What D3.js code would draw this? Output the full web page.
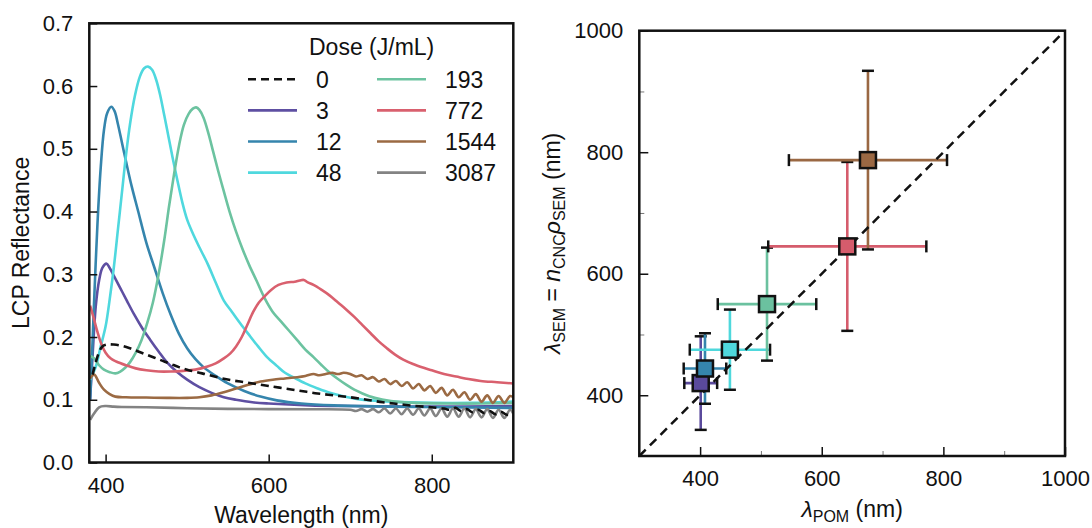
<!DOCTYPE html>
<html>
<head>
<meta charset="utf-8">
<script src="https://cdn.jsdelivr.net/npm/d3@7"></script>
<style>
  body { margin: 0; background: #fff; }
  svg { display: block; }
  text { font-family: "Liberation Sans", Arial, Helvetica, sans-serif; fill: #111; }
</style>
</head>
<body>
<svg id="chart" width="1092" height="528"></svg>
<script>
// ---- Reflectance spectra, [wavelength nm, LCP reflectance] ----
const doseLabels = ["0", "3", "12", "48", "193", "772", "1544", "3087"];
const lineColors = ["#111111", "#5e4fa2", "#3585ad", "#4fd8de", "#6cc3a0", "#d9606e", "#9b6a43", "#838383"];

const spectrum0 = [[384,0.14],[388,0.16],[392,0.176],[396,0.185],[401,0.188],[410,0.188],[420,0.186],[430,0.182],[440,0.177],[450,0.172],[460,0.167],[470,0.162],[480,0.157],[490,0.152],[500,0.148],[512,0.144],[525,0.14],[540,0.135],[555,0.131],[570,0.128],[585,0.125],[600,0.122],[620,0.118],[640,0.114],[660,0.11],[680,0.107],[700,0.104],[720,0.1],[740,0.096],[760,0.093],[780,0.09],[800,0.088],[815,0.086],[822,0.084],[829,0.087],[836,0.082],[843,0.085],[850,0.080],[857,0.084],[864,0.079],[871,0.082],[878,0.077],[885,0.081],[892,0.076],[900,0.079]];

const spectrum3 = [[381,0.10],[384,0.17],[388,0.25],[392,0.29],[396,0.31],[401,0.317],[405,0.31],[410,0.298],[418,0.278],[426,0.258],[435,0.236],[445,0.214],[455,0.195],[465,0.177],[475,0.16],[487,0.145],[500,0.132],[515,0.12],[530,0.111],[545,0.104],[560,0.1],[580,0.096],[600,0.094],[650,0.091],[700,0.09],[800,0.089],[900,0.09]];

const spectrum12 = [[381,0.10],[383,0.16],[386,0.26],[390,0.38],[394,0.47],[398,0.53],[402,0.557],[407,0.567],[411,0.56],[415,0.54],[420,0.51],[425,0.48],[432,0.44],[440,0.40],[450,0.35],[460,0.31],[470,0.27],[480,0.235],[490,0.205],[500,0.182],[510,0.165],[520,0.152],[535,0.138],[550,0.126],[570,0.114],[590,0.105],[610,0.099],[640,0.094],[680,0.091],[750,0.089],[900,0.087]];

const spectrum48 = [[381,0.132],[388,0.153],[394,0.185],[400,0.217],[405,0.26],[410,0.31],[415,0.37],[420,0.43],[425,0.49],[430,0.54],[436,0.585],[442,0.615],[447,0.628],[452,0.631],[457,0.626],[462,0.61],[467,0.585],[472,0.553],[477,0.52],[482,0.487],[488,0.45],[494,0.415],[500,0.387],[507,0.365],[515,0.343],[525,0.317],[535,0.287],[545,0.258],[555,0.24],[565,0.222],[575,0.205],[587,0.185],[598,0.168],[610,0.154],[620,0.143],[630,0.136],[645,0.126],[660,0.118],[675,0.111],[690,0.106],[710,0.101],[750,0.097],[800,0.095],[850,0.095],[900,0.097]];

const spectrum193 = [[381,0.17],[386,0.166],[392,0.155],[398,0.148],[405,0.144],[412,0.142],[418,0.145],[424,0.151],[430,0.16],[437,0.175],[444,0.195],[451,0.222],[458,0.255],[465,0.3],[472,0.355],[478,0.41],[484,0.46],[490,0.505],[496,0.538],[502,0.556],[507,0.564],[511,0.566],[515,0.562],[520,0.55],[526,0.525],[532,0.495],[538,0.465],[545,0.432],[552,0.4],[560,0.368],[568,0.34],[576,0.315],[585,0.29],[595,0.262],[605,0.24],[615,0.225],[625,0.21],[635,0.195],[645,0.18],[655,0.168],[665,0.155],[675,0.143],[685,0.133],[695,0.124],[705,0.116],[715,0.11],[730,0.103],[750,0.098],[780,0.095],[820,0.094],[860,0.094],[900,0.095]];

const spectrum772 = [[381,0.25],[385,0.232],[390,0.208],[395,0.188],[400,0.175],[406,0.166],[413,0.161],[425,0.155],[437,0.15],[450,0.147],[465,0.145],[480,0.145],[495,0.146],[510,0.148],[525,0.153],[535,0.158],[545,0.166],[553,0.174],[560,0.185],[567,0.2],[574,0.22],[581,0.24],[588,0.255],[595,0.265],[603,0.275],[612,0.283],[622,0.287],[632,0.288],[638,0.29],[643,0.291],[648,0.287],[655,0.283],[665,0.275],[675,0.266],[685,0.255],[695,0.244],[705,0.232],[715,0.219],[725,0.206],[735,0.193],[745,0.182],[755,0.172],[765,0.164],[777,0.157],[790,0.151],[800,0.147],[815,0.141],[830,0.137],[845,0.133],[860,0.13],[880,0.128],[900,0.126]];

const spectrum1544 = [[381,0.134],[386,0.14],[392,0.127],[398,0.116],[405,0.109],[412,0.105],[425,0.104],[450,0.1035],[475,0.103],[500,0.103],[515,0.104],[530,0.107],[545,0.112],[560,0.118],[575,0.124],[590,0.129],[605,0.132],[620,0.134],[635,0.136],[645,0.138],[655,0.141],[662,0.139],[670,0.141],[678,0.143],[685,0.141],[692,0.143],[700,0.141],[707,0.137],[714,0.139],[721,0.133],[728,0.136],[735,0.129],[742,0.133],[749,0.125],[756,0.130],[763,0.122],[770,0.128],[777,0.118],[784,0.125],[791,0.115],[798,0.122],[805,0.111],[812,0.119],[819,0.107],[826,0.116],[833,0.104],[840,0.112],[847,0.100],[854,0.109],[861,0.097],[868,0.107],[875,0.095],[882,0.106],[889,0.095],[896,0.106],[900,0.104]];

const spectrum3087 = [[381,0.068],[386,0.0785],[392,0.088],[400,0.09],[410,0.089],[420,0.0885],[450,0.088],[500,0.0865],[550,0.0855],[600,0.085],[650,0.0848],[700,0.084],[707,0.082],[714,0.085],[721,0.081],[728,0.085],[735,0.080],[742,0.086],[749,0.078],[756,0.086],[763,0.077],[770,0.086],[777,0.076],[784,0.086],[791,0.075],[798,0.086],[805,0.074],[812,0.086],[819,0.073],[826,0.086],[833,0.073],[840,0.086],[847,0.072],[854,0.085],[861,0.072],[868,0.085],[875,0.071],[882,0.084],[889,0.071],[896,0.084],[900,0.078]];

const spectra = [spectrum0, spectrum3, spectrum12, spectrum48, spectrum193, spectrum772, spectrum1544, spectrum3087];

// ---- Pitch comparison: POM vs SEM wavelengths (nm) ----
const pomDoses = ["3", "12", "48", "193", "772", "1544"];
const markerColors = ["#5a4a9c", "#3585ad", "#4fd8dc", "#6bc19f", "#d55c6c", "#9a6843"];
const lambdaPOM = [401, 408, 449, 510, 642, 676];
const lambdaSEM = [420, 444, 475, 550, 645, 787];
const errPOM = [27, 35, 66, 81, 130, 130];
const errSEM = [77, 58, 66, 93, 139, 147];

const wlTicks = [400, 600, 800];
const reflTicks = [0, 0.1, 0.2, 0.3, 0.4, 0.5, 0.6, 0.7];
const lamTicks = [400, 600, 800, 1000];
const lamMinorTicks = [500, 700, 900];

// ---- layout ----
const svg = d3.select("#chart");
const TICK_FS = 22, TITLE_FS = 23;

const left = { x0: 89.3, x1: 513.3, y0: 23.3, y1: 462.5 };
const right = { x0: 639.3, x1: 1065, y0: 30.7, y1: 456 };

function styleAxis(g, fs) {
  g.select(".domain").remove();
  g.attr("font-family", null).attr("font-size", null);
  g.selectAll(".tick line").attr("stroke", "#111").attr("stroke-width", 1.5);
  g.selectAll(".tick text").style("font-size", fs + "px").attr("fill", "#111");
}

// ===== Left panel: spectra =====
const xW = d3.scaleLinear().domain([380, 900]).range([left.x0, left.x1]);
const yR = d3.scaleLinear().domain([0, 0.7]).range([left.y1, left.y0]);

svg.append("defs").append("clipPath").attr("id", "clipL")
  .append("rect").attr("x", left.x0).attr("y", left.y0)
  .attr("width", left.x1 - left.x0).attr("height", left.y1 - left.y0);

const spectraLine = d3.line()
  .x(d => xW(d[0])).y(d => yR(d[1]))
  .curve(d3.curveCatmullRom.alpha(0.5));

const curveG = svg.append("g").attr("clip-path", "url(#clipL)");
const drawOrder = [1, 2, 3, 4, 5, 6, 7, 0];
drawOrder.forEach(i => {
  curveG.append("path")
    .datum(spectra[i])
    .attr("d", spectraLine)
    .attr("fill", "none")
    .attr("stroke", lineColors[i])
    .attr("stroke-width", 2.6)
    .attr("stroke-linejoin", "round")
    .attr("stroke-dasharray", i === 0 ? "8,5" : null);
});

const axL = svg.append("g").attr("transform", `translate(${left.x0},0)`)
  .call(d3.axisLeft(yR).tickValues(reflTicks).tickFormat(d3.format(".1f")).tickSize(-8).tickPadding(16));
styleAxis(axL, TICK_FS);

const axB = svg.append("g").attr("transform", `translate(0,${left.y1})`)
  .call(d3.axisBottom(xW).tickValues(wlTicks).tickFormat(d3.format("d")).tickSize(-8).tickPadding(15));
styleAxis(axB, TICK_FS);

svg.append("rect")
  .attr("x", left.x0).attr("y", left.y0)
  .attr("width", left.x1 - left.x0).attr("height", left.y1 - left.y0)
  .attr("fill", "none").attr("stroke", "#111").attr("stroke-width", 2.5);

svg.append("text").attr("x", (left.x0 + left.x1) / 2).attr("y", 523)
  .attr("text-anchor", "middle").style("font-size", TITLE_FS + "px").text("Wavelength (nm)");
svg.append("text").attr("transform", `translate(29,${(left.y0 + left.y1) / 2}) rotate(-90)`)
  .attr("text-anchor", "middle").style("font-size", TITLE_FS + "px").text("LCP Reflectance");

// legend
const legend = svg.append("g");
legend.append("text").attr("x", 309).attr("y", 55).style("font-size", TITLE_FS + "px").text("Dose (J/mL)");
doseLabels.forEach((lab, i) => {
  const col = Math.floor(i / 4), row = i % 4;
  const cy = 79.3 + row * 31.1;
  const lx = col === 0 ? 248 : 377;
  const tx = col === 0 ? 316 : 445;
  legend.append("line")
    .attr("x1", lx).attr("x2", lx + 49).attr("y1", cy).attr("y2", cy)
    .attr("stroke", lineColors[i]).attr("stroke-width", 2.6)
    .attr("stroke-dasharray", i === 0 ? "8,5" : null);
  legend.append("text").attr("x", tx).attr("y", cy).attr("dy", "0.36em")
    .style("font-size", TITLE_FS + "px").text(lab);
});

// ===== Right panel: lambda_SEM vs lambda_POM =====
const xP = d3.scaleLinear().domain([300, 1000]).range([right.x0, right.x1]);
const yS = d3.scaleLinear().domain([300, 1000]).range([right.y1, right.y0]);

const axRL = svg.append("g").attr("transform", `translate(${right.x0},0)`)
  .call(d3.axisLeft(yS).tickValues(lamTicks).tickFormat(d3.format("d")).tickSize(-9).tickPadding(16));
styleAxis(axRL, TICK_FS);
const axRLm = svg.append("g").attr("transform", `translate(${right.x0},0)`)
  .call(d3.axisLeft(yS).tickValues(lamMinorTicks).tickSize(-5).tickFormat(""));
axRLm.select(".domain").remove();
axRLm.selectAll(".tick line").attr("stroke", "#777").attr("stroke-width", 1);

const axRB = svg.append("g").attr("transform", `translate(0,${right.y1})`)
  .call(d3.axisBottom(xP).tickValues(lamTicks).tickFormat(d3.format("d")).tickSize(-9).tickPadding(14));
styleAxis(axRB, TICK_FS);
const axRBm = svg.append("g").attr("transform", `translate(0,${right.y1})`)
  .call(d3.axisBottom(xP).tickValues(lamMinorTicks).tickSize(-5).tickFormat(""));
axRBm.select(".domain").remove();
axRBm.selectAll(".tick line").attr("stroke", "#777").attr("stroke-width", 1);

const pts = pomDoses.map((d, i) => ({
  dose: d, x: lambdaPOM[i], y: lambdaSEM[i], ex: errPOM[i], ey: errSEM[i], c: markerColors[i]
}));

const CAP = 6;
const errG = svg.append("g");
pts.forEach(p => {
  errG.append("line").attr("x1", xP(p.x - p.ex)).attr("x2", xP(p.x + p.ex))
    .attr("y1", yS(p.y)).attr("y2", yS(p.y)).attr("stroke", p.c).attr("stroke-width", 2.6);
  errG.append("line").attr("x1", xP(p.x)).attr("x2", xP(p.x))
    .attr("y1", yS(p.y - p.ey)).attr("y2", yS(p.y + p.ey)).attr("stroke", p.c).attr("stroke-width", 2.6);
  [p.x - p.ex, p.x + p.ex].forEach(v => {
    errG.append("line").attr("x1", xP(v)).attr("x2", xP(v))
      .attr("y1", yS(p.y) - CAP).attr("y2", yS(p.y) + CAP)
      .attr("stroke", "#111").attr("stroke-width", 2.5);
  });
  [p.y - p.ey, p.y + p.ey].forEach(v => {
    errG.append("line").attr("x1", xP(p.x) - CAP).attr("x2", xP(p.x) + CAP)
      .attr("y1", yS(v)).attr("y2", yS(v))
      .attr("stroke", "#111").attr("stroke-width", 2.5);
  });
});

// identity line
svg.append("line")
  .attr("x1", xP(300)).attr("y1", yS(300)).attr("x2", xP(1000)).attr("y2", yS(1000))
  .attr("stroke", "#111").attr("stroke-width", 2.5).attr("stroke-dasharray", "9,6");

// markers
const M = 16;
svg.append("g").selectAll("rect").data(pts).join("rect")
  .attr("x", d => xP(d.x) - M / 2).attr("y", d => yS(d.y) - M / 2)
  .attr("width", M).attr("height", M)
  .attr("fill", d => d.c).attr("stroke", "#111").attr("stroke-width", 2.5);

svg.append("rect")
  .attr("x", right.x0).attr("y", right.y0)
  .attr("width", right.x1 - right.x0).attr("height", right.y1 - right.y0)
  .attr("fill", "none").attr("stroke", "#111").attr("stroke-width", 2.5);

// axis titles with subscripts, centred by measured length
const SUB = 16;
function addPart(t, txt, opts) {
  const s = t.append("tspan").text(txt);
  if (opts && opts.italic) s.style("font-style", "italic");
  if (opts && opts.sub) s.style("font-size", SUB + "px");
  if (opts && opts.dy) s.attr("dy", opts.dy);
  return s;
}

const xt = svg.append("text").attr("y", 517).style("font-size", TITLE_FS + "px");
addPart(xt, "λ", { italic: true });
addPart(xt, "POM", { sub: true, dy: 5 });
addPart(xt, " (nm)", { dy: -5 });
const xtLen = xt.node().getComputedTextLength();
xt.attr("x", (right.x0 + right.x1) / 2 - xtLen / 2);

const yt = svg.append("text").style("font-size", TITLE_FS + "px");
addPart(yt, "λ", { italic: true });
addPart(yt, "SEM", { sub: true, dy: 5 });
addPart(yt, " = ", { dy: -5 });
addPart(yt, "n", { italic: true });
addPart(yt, "CNC", { sub: true, dy: 5 });
addPart(yt, "ρ", { italic: true, dy: -5 });
addPart(yt, "SEM", { sub: true, dy: 5 });
addPart(yt, " (nm)", { dy: -5 });
const ytLen = yt.node().getComputedTextLength();
yt.attr("x", -ytLen / 2)
  .attr("transform", `translate(560,${(right.y0 + right.y1) / 2}) rotate(-90)`);
</script>
</body>
</html>
